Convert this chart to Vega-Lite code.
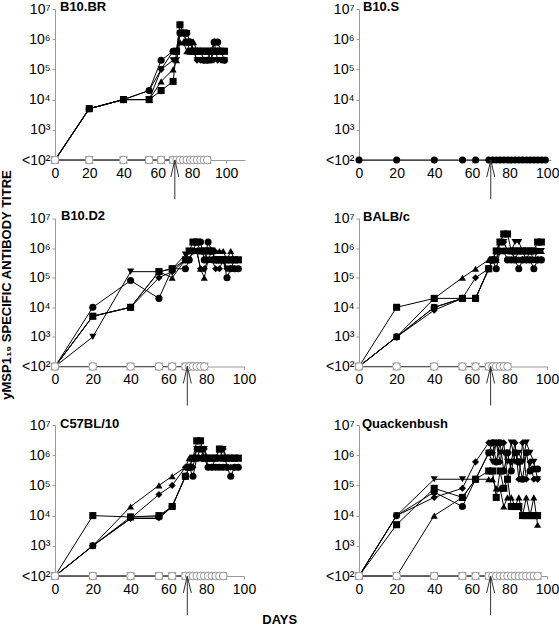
{
"$schema":"https://vega.github.io/schema/vega-lite/v6.json",
"padding":{"left":0,"top":1,"right":0,"bottom":0},
"title":{"text":"DAYS","orient":"bottom","anchor":"middle","frame":"bounds","fontSize":13,"fontWeight":"bold","font":"Liberation Sans","color":"black","offset":-3,"dx":0},
"config":{"view":{"stroke":null},
"title":{"anchor":"start","frame":"group","orient":"top","offset":-12,"fontSize":13,"fontWeight":"bold","font":"Liberation Sans","color":"black"},
"axis":{"grid":false,"labelFont":"Liberation Sans","labelFontSize":14,"labelColor":"black","domainColor":"#999","tickColor":"#999","tickSize":3,"labelPadding":2,"labelFlush":false,"labelOverlap":false,"titleFont":"Liberation Sans","titleColor":"black"},
"axisX":{"labelPadding":3}},
"datasets":{
"panels":[{"strain":"B10.BR","day":70,"titre":100},{"strain":"B10.S","day":70,"titre":100},{"strain":"B10.D2","day":70,"titre":100},{"strain":"BALB/c","day":70,"titre":100},{"strain":"C57BL/10","day":70,"titre":100},{"strain":"Quackenbush","day":70,"titre":100}],
"BR_mice":[
{"mouse":"M1","day":0,"titre":100},{"mouse":"M1","day":20,"titre":5000},{"mouse":"M1","day":40,"titre":1e4},{"mouse":"M1","day":55,"titre":2e4},{"mouse":"M1","day":62,"titre":2e5},{"mouse":"M1","day":69,"titre":4e5},{"mouse":"M1","day":71,"titre":4e5},{"mouse":"M1","day":73,"titre":1.6e6},{"mouse":"M1","day":75,"titre":1.6e6},{"mouse":"M1","day":77,"titre":1.6e6},{"mouse":"M1","day":79,"titre":8e5},{"mouse":"M1","day":81,"titre":4e5},{"mouse":"M1","day":83,"titre":4e5},{"mouse":"M1","day":85,"titre":4e5},{"mouse":"M1","day":87,"titre":2e5},{"mouse":"M1","day":89,"titre":2e5},{"mouse":"M1","day":91,"titre":4e5},{"mouse":"M1","day":93,"titre":8e5},{"mouse":"M1","day":95,"titre":8e5},{"mouse":"M1","day":97,"titre":4e5},{"mouse":"M1","day":99,"titre":2e5},
{"mouse":"M2","day":0,"titre":100},{"mouse":"M2","day":20,"titre":5000},{"mouse":"M2","day":40,"titre":1e4},{"mouse":"M2","day":55,"titre":1e4},{"mouse":"M2","day":62,"titre":2e4},{"mouse":"M2","day":69,"titre":4e4},{"mouse":"M2","day":71,"titre":4e5},{"mouse":"M2","day":73,"titre":3e6},{"mouse":"M2","day":75,"titre":1.6e6},{"mouse":"M2","day":77,"titre":8e5},{"mouse":"M2","day":79,"titre":4e5},{"mouse":"M2","day":81,"titre":4e5},{"mouse":"M2","day":83,"titre":4e5},{"mouse":"M2","day":85,"titre":4e5},{"mouse":"M2","day":87,"titre":4e5},{"mouse":"M2","day":89,"titre":4e5},{"mouse":"M2","day":91,"titre":4e5},{"mouse":"M2","day":93,"titre":4e5},{"mouse":"M2","day":95,"titre":4e5},{"mouse":"M2","day":97,"titre":4e5},{"mouse":"M2","day":99,"titre":4e5},
{"mouse":"M3","day":0,"titre":100},{"mouse":"M3","day":20,"titre":5000},{"mouse":"M3","day":40,"titre":1e4},{"mouse":"M3","day":55,"titre":1e4},{"mouse":"M3","day":62,"titre":4e4},{"mouse":"M3","day":69,"titre":1e5},{"mouse":"M3","day":71,"titre":2e5},{"mouse":"M3","day":73,"titre":8e5},{"mouse":"M3","day":75,"titre":8e5},{"mouse":"M3","day":77,"titre":4e5},{"mouse":"M3","day":79,"titre":4e5},{"mouse":"M3","day":81,"titre":8e5},{"mouse":"M3","day":83,"titre":4e5},{"mouse":"M3","day":85,"titre":4e5},{"mouse":"M3","day":87,"titre":4e5},{"mouse":"M3","day":89,"titre":4e5},{"mouse":"M3","day":91,"titre":2e5},{"mouse":"M3","day":93,"titre":4e5},{"mouse":"M3","day":95,"titre":4e5},{"mouse":"M3","day":97,"titre":4e5},{"mouse":"M3","day":99,"titre":4e5},
{"mouse":"M4","day":0,"titre":100},{"mouse":"M4","day":20,"titre":5000},{"mouse":"M4","day":40,"titre":1e4},{"mouse":"M4","day":55,"titre":1e4},{"mouse":"M4","day":62,"titre":1e5},{"mouse":"M4","day":69,"titre":2e5},{"mouse":"M4","day":71,"titre":2e5},{"mouse":"M4","day":73,"titre":1.6e6},{"mouse":"M4","day":75,"titre":1.6e6},{"mouse":"M4","day":77,"titre":1.6e6},{"mouse":"M4","day":79,"titre":8e5},{"mouse":"M4","day":81,"titre":4e5},{"mouse":"M4","day":83,"titre":2e5},{"mouse":"M4","day":85,"titre":2e5},{"mouse":"M4","day":87,"titre":2e5},{"mouse":"M4","day":89,"titre":2e5},{"mouse":"M4","day":91,"titre":2e5},{"mouse":"M4","day":93,"titre":2e5},{"mouse":"M4","day":95,"titre":2e5},{"mouse":"M4","day":97,"titre":2e5},{"mouse":"M4","day":99,"titre":2e5},
{"mouse":"M5","day":0,"titre":100},{"mouse":"M5","day":20,"titre":5000},{"mouse":"M5","day":40,"titre":1e4},{"mouse":"M5","day":55,"titre":2e4},{"mouse":"M5","day":62,"titre":1e5},{"mouse":"M5","day":69,"titre":4e5},{"mouse":"M5","day":71,"titre":4e5},{"mouse":"M5","day":73,"titre":3e6},{"mouse":"M5","day":75,"titre":1.6e6},{"mouse":"M5","day":77,"titre":8e5},{"mouse":"M5","day":79,"titre":8e5},{"mouse":"M5","day":81,"titre":4e5},{"mouse":"M5","day":83,"titre":2e5},{"mouse":"M5","day":85,"titre":2e5},{"mouse":"M5","day":87,"titre":2e5},{"mouse":"M5","day":89,"titre":2e5},{"mouse":"M5","day":91,"titre":2e5},{"mouse":"M5","day":93,"titre":8e5},{"mouse":"M5","day":95,"titre":2e5},{"mouse":"M5","day":97,"titre":2e5},{"mouse":"M5","day":99,"titre":2e5}
],
"BR_ctrl":[
{"mouse":"C1","day":0,"titre":100},{"mouse":"C1","day":20,"titre":100},{"mouse":"C1","day":40,"titre":100},{"mouse":"C1","day":55,"titre":100},{"mouse":"C1","day":62,"titre":100},{"mouse":"C1","day":69,"titre":100},{"mouse":"C1","day":71,"titre":100},{"mouse":"C1","day":73,"titre":100},{"mouse":"C1","day":75,"titre":100},{"mouse":"C1","day":77,"titre":100},{"mouse":"C1","day":79,"titre":100},{"mouse":"C1","day":81,"titre":100},{"mouse":"C1","day":83,"titre":100},{"mouse":"C1","day":85,"titre":100},{"mouse":"C1","day":87,"titre":100},{"mouse":"C1","day":89,"titre":100},
{"mouse":"C2","day":0,"titre":100},{"mouse":"C2","day":20,"titre":100},{"mouse":"C2","day":40,"titre":100},{"mouse":"C2","day":55,"titre":100},{"mouse":"C2","day":62,"titre":100},{"mouse":"C2","day":69,"titre":100},{"mouse":"C2","day":71,"titre":100},{"mouse":"C2","day":73,"titre":100},{"mouse":"C2","day":75,"titre":100},{"mouse":"C2","day":77,"titre":100},{"mouse":"C2","day":79,"titre":100},{"mouse":"C2","day":81,"titre":100},{"mouse":"C2","day":83,"titre":100},{"mouse":"C2","day":85,"titre":100},{"mouse":"C2","day":87,"titre":100},{"mouse":"C2","day":89,"titre":100},
{"mouse":"C3","day":0,"titre":100},{"mouse":"C3","day":20,"titre":100},{"mouse":"C3","day":40,"titre":100},{"mouse":"C3","day":55,"titre":100},{"mouse":"C3","day":62,"titre":100},{"mouse":"C3","day":69,"titre":100},{"mouse":"C3","day":71,"titre":100},{"mouse":"C3","day":73,"titre":100},{"mouse":"C3","day":75,"titre":100},{"mouse":"C3","day":77,"titre":100},{"mouse":"C3","day":79,"titre":100},{"mouse":"C3","day":81,"titre":100},{"mouse":"C3","day":83,"titre":100},{"mouse":"C3","day":85,"titre":100},{"mouse":"C3","day":87,"titre":100},{"mouse":"C3","day":89,"titre":100}
],
"S_mice":[
{"mouse":"M1","day":0,"titre":100},{"mouse":"M1","day":20,"titre":100},{"mouse":"M1","day":40,"titre":100},{"mouse":"M1","day":55,"titre":100},{"mouse":"M1","day":62,"titre":100},{"mouse":"M1","day":69,"titre":100},{"mouse":"M1","day":71,"titre":100},{"mouse":"M1","day":73,"titre":100},{"mouse":"M1","day":75,"titre":100},{"mouse":"M1","day":77,"titre":100},{"mouse":"M1","day":79,"titre":100},{"mouse":"M1","day":81,"titre":100},{"mouse":"M1","day":83,"titre":100},{"mouse":"M1","day":85,"titre":100},{"mouse":"M1","day":87,"titre":100},{"mouse":"M1","day":89,"titre":100},{"mouse":"M1","day":91,"titre":100},{"mouse":"M1","day":93,"titre":100},{"mouse":"M1","day":95,"titre":100},{"mouse":"M1","day":97,"titre":100},{"mouse":"M1","day":99,"titre":100}
],
"D2_mice":[
{"mouse":"M1","day":0,"titre":100},{"mouse":"M1","day":20,"titre":1e4},{"mouse":"M1","day":40,"titre":8e4},{"mouse":"M1","day":55,"titre":2e4},{"mouse":"M1","day":62,"titre":2e5},{"mouse":"M1","day":69,"titre":2e5},{"mouse":"M1","day":71,"titre":4e5},{"mouse":"M1","day":73,"titre":8e5},{"mouse":"M1","day":75,"titre":1.6e6},{"mouse":"M1","day":77,"titre":1.6e6},{"mouse":"M1","day":79,"titre":4e5},{"mouse":"M1","day":81,"titre":1.6e6},{"mouse":"M1","day":83,"titre":8e5},{"mouse":"M1","day":85,"titre":4e5},{"mouse":"M1","day":87,"titre":4e5},{"mouse":"M1","day":89,"titre":4e5},{"mouse":"M1","day":91,"titre":1e5},{"mouse":"M1","day":93,"titre":2e5},{"mouse":"M1","day":95,"titre":2e5},{"mouse":"M1","day":97,"titre":2e5},
{"mouse":"M2","day":0,"titre":100},{"mouse":"M2","day":20,"titre":5000},{"mouse":"M2","day":40,"titre":1e4},{"mouse":"M2","day":55,"titre":1.6e5},{"mouse":"M2","day":62,"titre":2e5},{"mouse":"M2","day":69,"titre":4e5},{"mouse":"M2","day":71,"titre":8e5},{"mouse":"M2","day":73,"titre":1.6e6},{"mouse":"M2","day":75,"titre":1.6e6},{"mouse":"M2","day":77,"titre":8e5},{"mouse":"M2","day":79,"titre":8e5},{"mouse":"M2","day":81,"titre":8e5},{"mouse":"M2","day":83,"titre":8e5},{"mouse":"M2","day":85,"titre":4e5},{"mouse":"M2","day":87,"titre":4e5},{"mouse":"M2","day":89,"titre":4e5},{"mouse":"M2","day":91,"titre":4e5},{"mouse":"M2","day":93,"titre":4e5},{"mouse":"M2","day":95,"titre":4e5},{"mouse":"M2","day":97,"titre":4e5},
{"mouse":"M3","day":0,"titre":100},{"mouse":"M3","day":20,"titre":5000},{"mouse":"M3","day":40,"titre":1e4},{"mouse":"M3","day":55,"titre":1.6e5},{"mouse":"M3","day":62,"titre":1e5},{"mouse":"M3","day":69,"titre":4e5},{"mouse":"M3","day":71,"titre":8e5},{"mouse":"M3","day":73,"titre":8e5},{"mouse":"M3","day":75,"titre":8e5},{"mouse":"M3","day":77,"titre":2e5},{"mouse":"M3","day":79,"titre":1e5},{"mouse":"M3","day":81,"titre":4e5},{"mouse":"M3","day":83,"titre":8e5},{"mouse":"M3","day":85,"titre":8e5},{"mouse":"M3","day":87,"titre":8e5},{"mouse":"M3","day":89,"titre":8e5},{"mouse":"M3","day":91,"titre":4e5},{"mouse":"M3","day":93,"titre":8e5},{"mouse":"M3","day":95,"titre":4e5},{"mouse":"M3","day":97,"titre":4e5},
{"mouse":"M4","day":0,"titre":100},{"mouse":"M4","day":20,"titre":1000},{"mouse":"M4","day":40,"titre":1.6e5},{"mouse":"M4","day":55,"titre":1.6e5},{"mouse":"M4","day":62,"titre":2e5},{"mouse":"M4","day":69,"titre":6e5},{"mouse":"M4","day":71,"titre":8e5},{"mouse":"M4","day":73,"titre":8e5},{"mouse":"M4","day":75,"titre":8e5},{"mouse":"M4","day":77,"titre":8e5},{"mouse":"M4","day":79,"titre":8e5},{"mouse":"M4","day":81,"titre":4e5},{"mouse":"M4","day":83,"titre":4e5},{"mouse":"M4","day":85,"titre":4e5},{"mouse":"M4","day":87,"titre":4e5},{"mouse":"M4","day":89,"titre":4e5},{"mouse":"M4","day":91,"titre":2e5},{"mouse":"M4","day":93,"titre":2e5},{"mouse":"M4","day":95,"titre":4e5},{"mouse":"M4","day":97,"titre":4e5},
{"mouse":"M5","day":0,"titre":100},{"mouse":"M5","day":20,"titre":5000},{"mouse":"M5","day":40,"titre":1e4},{"mouse":"M5","day":55,"titre":1e5},{"mouse":"M5","day":62,"titre":1.6e5},{"mouse":"M5","day":69,"titre":4e5},{"mouse":"M5","day":71,"titre":4e5},{"mouse":"M5","day":73,"titre":8e5},{"mouse":"M5","day":75,"titre":8e5},{"mouse":"M5","day":77,"titre":2e5},{"mouse":"M5","day":79,"titre":2e5},{"mouse":"M5","day":81,"titre":4e5},{"mouse":"M5","day":83,"titre":4e5},{"mouse":"M5","day":85,"titre":2e5},{"mouse":"M5","day":87,"titre":2e5},{"mouse":"M5","day":89,"titre":4e5},{"mouse":"M5","day":91,"titre":2e5},{"mouse":"M5","day":93,"titre":2e5},{"mouse":"M5","day":95,"titre":2e5},{"mouse":"M5","day":97,"titre":2e5}
],
"D2_ctrl":[
{"mouse":"C1","day":0,"titre":100},{"mouse":"C1","day":20,"titre":100},{"mouse":"C1","day":40,"titre":100},{"mouse":"C1","day":55,"titre":100},{"mouse":"C1","day":62,"titre":100},{"mouse":"C1","day":69,"titre":100},{"mouse":"C1","day":71,"titre":100},{"mouse":"C1","day":73,"titre":100},{"mouse":"C1","day":75,"titre":100},{"mouse":"C1","day":77,"titre":100},{"mouse":"C1","day":79,"titre":100},
{"mouse":"C2","day":0,"titre":100},{"mouse":"C2","day":20,"titre":100},{"mouse":"C2","day":40,"titre":100},{"mouse":"C2","day":55,"titre":100},{"mouse":"C2","day":62,"titre":100},{"mouse":"C2","day":69,"titre":100},{"mouse":"C2","day":71,"titre":100},{"mouse":"C2","day":73,"titre":100},{"mouse":"C2","day":75,"titre":100},{"mouse":"C2","day":77,"titre":100},{"mouse":"C2","day":79,"titre":100},
{"mouse":"C3","day":0,"titre":100},{"mouse":"C3","day":20,"titre":100},{"mouse":"C3","day":40,"titre":100},{"mouse":"C3","day":55,"titre":100},{"mouse":"C3","day":62,"titre":100},{"mouse":"C3","day":69,"titre":100},{"mouse":"C3","day":71,"titre":100},{"mouse":"C3","day":73,"titre":100},{"mouse":"C3","day":75,"titre":100},{"mouse":"C3","day":77,"titre":100},{"mouse":"C3","day":79,"titre":100}
],
"BALB_mice":[
{"mouse":"M1","day":0,"titre":100},{"mouse":"M1","day":20,"titre":1000},{"mouse":"M1","day":40,"titre":1e4},{"mouse":"M1","day":55,"titre":2e4},{"mouse":"M1","day":62,"titre":2e4},{"mouse":"M1","day":69,"titre":2e5},{"mouse":"M1","day":71,"titre":4e5},{"mouse":"M1","day":73,"titre":2e5},{"mouse":"M1","day":75,"titre":8e5},{"mouse":"M1","day":77,"titre":8e5},{"mouse":"M1","day":79,"titre":4e5},{"mouse":"M1","day":81,"titre":4e5},{"mouse":"M1","day":83,"titre":4e5},{"mouse":"M1","day":85,"titre":2e5},{"mouse":"M1","day":87,"titre":4e5},{"mouse":"M1","day":89,"titre":4e5},{"mouse":"M1","day":91,"titre":4e5},{"mouse":"M1","day":93,"titre":2e5},{"mouse":"M1","day":95,"titre":4e5},{"mouse":"M1","day":97,"titre":4e5},
{"mouse":"M2","day":0,"titre":100},{"mouse":"M2","day":20,"titre":1e4},{"mouse":"M2","day":40,"titre":2e4},{"mouse":"M2","day":55,"titre":2e4},{"mouse":"M2","day":62,"titre":2e4},{"mouse":"M2","day":69,"titre":2e5},{"mouse":"M2","day":71,"titre":4e5},{"mouse":"M2","day":73,"titre":8e5},{"mouse":"M2","day":75,"titre":1.6e6},{"mouse":"M2","day":77,"titre":3e6},{"mouse":"M2","day":79,"titre":3e6},{"mouse":"M2","day":81,"titre":8e5},{"mouse":"M2","day":83,"titre":8e5},{"mouse":"M2","day":85,"titre":8e5},{"mouse":"M2","day":87,"titre":8e5},{"mouse":"M2","day":89,"titre":8e5},{"mouse":"M2","day":91,"titre":8e5},{"mouse":"M2","day":93,"titre":8e5},{"mouse":"M2","day":95,"titre":1.6e6},{"mouse":"M2","day":97,"titre":1.6e6},
{"mouse":"M3","day":0,"titre":100},{"mouse":"M3","day":20,"titre":1000},{"mouse":"M3","day":40,"titre":2e4},{"mouse":"M3","day":55,"titre":1e5},{"mouse":"M3","day":62,"titre":2e5},{"mouse":"M3","day":69,"titre":4e5},{"mouse":"M3","day":71,"titre":4e5},{"mouse":"M3","day":73,"titre":4e5},{"mouse":"M3","day":75,"titre":8e5},{"mouse":"M3","day":77,"titre":8e5},{"mouse":"M3","day":79,"titre":8e5},{"mouse":"M3","day":81,"titre":8e5},{"mouse":"M3","day":83,"titre":4e5},{"mouse":"M3","day":85,"titre":8e5},{"mouse":"M3","day":87,"titre":8e5},{"mouse":"M3","day":89,"titre":4e5},{"mouse":"M3","day":91,"titre":8e5},{"mouse":"M3","day":93,"titre":4e5},{"mouse":"M3","day":95,"titre":8e5},{"mouse":"M3","day":97,"titre":8e5},
{"mouse":"M4","day":0,"titre":100},{"mouse":"M4","day":20,"titre":1000},{"mouse":"M4","day":40,"titre":1e4},{"mouse":"M4","day":55,"titre":2e4},{"mouse":"M4","day":62,"titre":2e4},{"mouse":"M4","day":69,"titre":2e5},{"mouse":"M4","day":71,"titre":4e5},{"mouse":"M4","day":73,"titre":8e5},{"mouse":"M4","day":75,"titre":1.6e6},{"mouse":"M4","day":77,"titre":1.6e6},{"mouse":"M4","day":79,"titre":8e5},{"mouse":"M4","day":81,"titre":8e5},{"mouse":"M4","day":83,"titre":1.6e6},{"mouse":"M4","day":85,"titre":1.6e6},{"mouse":"M4","day":87,"titre":8e5},{"mouse":"M4","day":89,"titre":8e5},{"mouse":"M4","day":91,"titre":8e5},{"mouse":"M4","day":93,"titre":8e5},{"mouse":"M4","day":95,"titre":8e5},{"mouse":"M4","day":97,"titre":8e5},
{"mouse":"M5","day":0,"titre":100},{"mouse":"M5","day":20,"titre":1000},{"mouse":"M5","day":40,"titre":8000},{"mouse":"M5","day":55,"titre":2e4},{"mouse":"M5","day":62,"titre":1e5},{"mouse":"M5","day":69,"titre":2e5},{"mouse":"M5","day":71,"titre":4e5},{"mouse":"M5","day":73,"titre":4e5},{"mouse":"M5","day":75,"titre":1.6e6},{"mouse":"M5","day":77,"titre":1.6e6},{"mouse":"M5","day":79,"titre":8e5},{"mouse":"M5","day":81,"titre":8e5},{"mouse":"M5","day":83,"titre":4e5},{"mouse":"M5","day":85,"titre":4e5},{"mouse":"M5","day":87,"titre":4e5},{"mouse":"M5","day":89,"titre":4e5},{"mouse":"M5","day":91,"titre":4e5},{"mouse":"M5","day":93,"titre":4e5},{"mouse":"M5","day":95,"titre":4e5},{"mouse":"M5","day":97,"titre":4e5}
],
"BALB_ctrl":[
{"mouse":"C1","day":0,"titre":100},{"mouse":"C1","day":20,"titre":100},{"mouse":"C1","day":40,"titre":100},{"mouse":"C1","day":55,"titre":100},{"mouse":"C1","day":62,"titre":100},{"mouse":"C1","day":69,"titre":100},{"mouse":"C1","day":71,"titre":100},{"mouse":"C1","day":73,"titre":100},{"mouse":"C1","day":75,"titre":100},{"mouse":"C1","day":77,"titre":100},{"mouse":"C1","day":79,"titre":100},
{"mouse":"C2","day":0,"titre":100},{"mouse":"C2","day":20,"titre":100},{"mouse":"C2","day":40,"titre":100},{"mouse":"C2","day":55,"titre":100},{"mouse":"C2","day":62,"titre":100},{"mouse":"C2","day":69,"titre":100},{"mouse":"C2","day":71,"titre":100},{"mouse":"C2","day":73,"titre":100},{"mouse":"C2","day":75,"titre":100},{"mouse":"C2","day":77,"titre":100},{"mouse":"C2","day":79,"titre":100},
{"mouse":"C3","day":0,"titre":100},{"mouse":"C3","day":20,"titre":100},{"mouse":"C3","day":40,"titre":100},{"mouse":"C3","day":55,"titre":100},{"mouse":"C3","day":62,"titre":100},{"mouse":"C3","day":69,"titre":100},{"mouse":"C3","day":71,"titre":100},{"mouse":"C3","day":73,"titre":100},{"mouse":"C3","day":75,"titre":100},{"mouse":"C3","day":77,"titre":100},{"mouse":"C3","day":79,"titre":100}
],
"C57_mice":[
{"mouse":"M1","day":0,"titre":100},{"mouse":"M1","day":20,"titre":1000},{"mouse":"M1","day":40,"titre":9000},{"mouse":"M1","day":55,"titre":9000},{"mouse":"M1","day":62,"titre":2e4},{"mouse":"M1","day":69,"titre":2e5},{"mouse":"M1","day":71,"titre":4e5},{"mouse":"M1","day":73,"titre":2e5},{"mouse":"M1","day":75,"titre":8e5},{"mouse":"M1","day":77,"titre":1.6e6},{"mouse":"M1","day":79,"titre":8e5},{"mouse":"M1","day":81,"titre":4e5},{"mouse":"M1","day":83,"titre":4e5},{"mouse":"M1","day":85,"titre":4e5},{"mouse":"M1","day":87,"titre":4e5},{"mouse":"M1","day":89,"titre":4e5},{"mouse":"M1","day":91,"titre":4e5},{"mouse":"M1","day":93,"titre":2e5},{"mouse":"M1","day":95,"titre":4e5},{"mouse":"M1","day":97,"titre":4e5},
{"mouse":"M2","day":0,"titre":100},{"mouse":"M2","day":20,"titre":1e4},{"mouse":"M2","day":40,"titre":9000},{"mouse":"M2","day":55,"titre":1e4},{"mouse":"M2","day":62,"titre":2e4},{"mouse":"M2","day":69,"titre":2e5},{"mouse":"M2","day":71,"titre":4e5},{"mouse":"M2","day":73,"titre":8e5},{"mouse":"M2","day":75,"titre":3e6},{"mouse":"M2","day":77,"titre":3e6},{"mouse":"M2","day":79,"titre":8e5},{"mouse":"M2","day":81,"titre":8e5},{"mouse":"M2","day":83,"titre":8e5},{"mouse":"M2","day":85,"titre":8e5},{"mouse":"M2","day":87,"titre":1.6e6},{"mouse":"M2","day":89,"titre":8e5},{"mouse":"M2","day":91,"titre":8e5},{"mouse":"M2","day":93,"titre":8e5},{"mouse":"M2","day":95,"titre":8e5},{"mouse":"M2","day":97,"titre":8e5},
{"mouse":"M3","day":0,"titre":100},{"mouse":"M3","day":20,"titre":1000},{"mouse":"M3","day":40,"titre":2e4},{"mouse":"M3","day":55,"titre":1e5},{"mouse":"M3","day":62,"titre":2e5},{"mouse":"M3","day":69,"titre":4e5},{"mouse":"M3","day":71,"titre":8e5},{"mouse":"M3","day":73,"titre":8e5},{"mouse":"M3","day":75,"titre":8e5},{"mouse":"M3","day":77,"titre":8e5},{"mouse":"M3","day":79,"titre":8e5},{"mouse":"M3","day":81,"titre":8e5},{"mouse":"M3","day":83,"titre":8e5},{"mouse":"M3","day":85,"titre":8e5},{"mouse":"M3","day":87,"titre":8e5},{"mouse":"M3","day":89,"titre":8e5},{"mouse":"M3","day":91,"titre":8e5},{"mouse":"M3","day":93,"titre":8e5},{"mouse":"M3","day":95,"titre":8e5},{"mouse":"M3","day":97,"titre":8e5},
{"mouse":"M4","day":0,"titre":100},{"mouse":"M4","day":20,"titre":1000},{"mouse":"M4","day":40,"titre":8000},{"mouse":"M4","day":55,"titre":8000},{"mouse":"M4","day":62,"titre":2e4},{"mouse":"M4","day":69,"titre":2e5},{"mouse":"M4","day":71,"titre":4e5},{"mouse":"M4","day":73,"titre":8e5},{"mouse":"M4","day":75,"titre":1.6e6},{"mouse":"M4","day":77,"titre":8e5},{"mouse":"M4","day":79,"titre":1.6e6},{"mouse":"M4","day":81,"titre":8e5},{"mouse":"M4","day":83,"titre":8e5},{"mouse":"M4","day":85,"titre":8e5},{"mouse":"M4","day":87,"titre":8e5},{"mouse":"M4","day":89,"titre":1.6e6},{"mouse":"M4","day":91,"titre":8e5},{"mouse":"M4","day":93,"titre":8e5},{"mouse":"M4","day":95,"titre":8e5},{"mouse":"M4","day":97,"titre":8e5},
{"mouse":"M5","day":0,"titre":100},{"mouse":"M5","day":20,"titre":1000},{"mouse":"M5","day":40,"titre":8000},{"mouse":"M5","day":55,"titre":5e4},{"mouse":"M5","day":62,"titre":1e5},{"mouse":"M5","day":69,"titre":4e5},{"mouse":"M5","day":71,"titre":4e5},{"mouse":"M5","day":73,"titre":4e5},{"mouse":"M5","day":75,"titre":1.6e6},{"mouse":"M5","day":77,"titre":1.6e6},{"mouse":"M5","day":79,"titre":1.6e6},{"mouse":"M5","day":81,"titre":4e5},{"mouse":"M5","day":83,"titre":4e5},{"mouse":"M5","day":85,"titre":8e5},{"mouse":"M5","day":87,"titre":1.6e6},{"mouse":"M5","day":89,"titre":1.6e6},{"mouse":"M5","day":91,"titre":4e5},{"mouse":"M5","day":93,"titre":4e5},{"mouse":"M5","day":95,"titre":4e5},{"mouse":"M5","day":97,"titre":4e5}
],
"C57_ctrl":[
{"mouse":"C1","day":0,"titre":100},{"mouse":"C1","day":20,"titre":100},{"mouse":"C1","day":40,"titre":100},{"mouse":"C1","day":55,"titre":100},{"mouse":"C1","day":62,"titre":100},{"mouse":"C1","day":69,"titre":100},{"mouse":"C1","day":71,"titre":100},{"mouse":"C1","day":73,"titre":100},{"mouse":"C1","day":75,"titre":100},{"mouse":"C1","day":77,"titre":100},{"mouse":"C1","day":79,"titre":100},{"mouse":"C1","day":81,"titre":100},{"mouse":"C1","day":83,"titre":100},{"mouse":"C1","day":85,"titre":100},{"mouse":"C1","day":87,"titre":100},{"mouse":"C1","day":89,"titre":100},
{"mouse":"C2","day":0,"titre":100},{"mouse":"C2","day":20,"titre":100},{"mouse":"C2","day":40,"titre":100},{"mouse":"C2","day":55,"titre":100},{"mouse":"C2","day":62,"titre":100},{"mouse":"C2","day":69,"titre":100},{"mouse":"C2","day":71,"titre":100},{"mouse":"C2","day":73,"titre":100},{"mouse":"C2","day":75,"titre":100},{"mouse":"C2","day":77,"titre":100},{"mouse":"C2","day":79,"titre":100},{"mouse":"C2","day":81,"titre":100},{"mouse":"C2","day":83,"titre":100},{"mouse":"C2","day":85,"titre":100},{"mouse":"C2","day":87,"titre":100},{"mouse":"C2","day":89,"titre":100},
{"mouse":"C3","day":0,"titre":100},{"mouse":"C3","day":20,"titre":100},{"mouse":"C3","day":40,"titre":100},{"mouse":"C3","day":55,"titre":100},{"mouse":"C3","day":62,"titre":100},{"mouse":"C3","day":69,"titre":100},{"mouse":"C3","day":71,"titre":100},{"mouse":"C3","day":73,"titre":100},{"mouse":"C3","day":75,"titre":100},{"mouse":"C3","day":77,"titre":100},{"mouse":"C3","day":79,"titre":100},{"mouse":"C3","day":81,"titre":100},{"mouse":"C3","day":83,"titre":100},{"mouse":"C3","day":85,"titre":100},{"mouse":"C3","day":87,"titre":100},{"mouse":"C3","day":89,"titre":100}
],
"QB_mice":[
{"mouse":"M1","day":0,"titre":100},{"mouse":"M1","day":20,"titre":1e4},{"mouse":"M1","day":40,"titre":6e4},{"mouse":"M1","day":55,"titre":2e4},{"mouse":"M1","day":62,"titre":1.6e5},{"mouse":"M1","day":69,"titre":1.2e6},{"mouse":"M1","day":71,"titre":2.6e6},{"mouse":"M1","day":73,"titre":6e5},{"mouse":"M1","day":75,"titre":2.6e6},{"mouse":"M1","day":77,"titre":3e5},{"mouse":"M1","day":79,"titre":1.2e6},{"mouse":"M1","day":81,"titre":3e5},{"mouse":"M1","day":83,"titre":1.2e6},{"mouse":"M1","day":85,"titre":6e5},{"mouse":"M1","day":87,"titre":1.6e5},{"mouse":"M1","day":89,"titre":1.2e6},{"mouse":"M1","day":91,"titre":3e5},{"mouse":"M1","day":93,"titre":3.5e5},{"mouse":"M1","day":95,"titre":3.5e5},
{"mouse":"M2","day":0,"titre":100},{"mouse":"M2","day":20,"titre":5000},{"mouse":"M2","day":40,"titre":8e4},{"mouse":"M2","day":55,"titre":4e4},{"mouse":"M2","day":62,"titre":1.6e5},{"mouse":"M2","day":69,"titre":3e5},{"mouse":"M2","day":71,"titre":3e5},{"mouse":"M2","day":73,"titre":4e4},{"mouse":"M2","day":75,"titre":3e5},{"mouse":"M2","day":77,"titre":8e4},{"mouse":"M2","day":79,"titre":1.6e5},{"mouse":"M2","day":81,"titre":2e4},{"mouse":"M2","day":83,"titre":2e4},{"mouse":"M2","day":85,"titre":2e4},{"mouse":"M2","day":87,"titre":1e4},{"mouse":"M2","day":89,"titre":1e4},{"mouse":"M2","day":91,"titre":1e4},{"mouse":"M2","day":93,"titre":1e4},{"mouse":"M2","day":95,"titre":1e4},
{"mouse":"M3","day":0,"titre":100},{"mouse":"M3","day":20,"titre":100},{"mouse":"M3","day":40,"titre":1e4},{"mouse":"M3","day":55,"titre":4e4},{"mouse":"M3","day":62,"titre":1.6e5},{"mouse":"M3","day":69,"titre":1.6e5},{"mouse":"M3","day":71,"titre":1.6e5},{"mouse":"M3","day":73,"titre":8e4},{"mouse":"M3","day":75,"titre":8e4},{"mouse":"M3","day":77,"titre":2e4},{"mouse":"M3","day":79,"titre":4e4},{"mouse":"M3","day":81,"titre":4e4},{"mouse":"M3","day":83,"titre":2e4},{"mouse":"M3","day":85,"titre":4e4},{"mouse":"M3","day":87,"titre":1e4},{"mouse":"M3","day":89,"titre":4e4},{"mouse":"M3","day":91,"titre":1e4},{"mouse":"M3","day":93,"titre":4e4},{"mouse":"M3","day":95,"titre":5000},
{"mouse":"M4","day":0,"titre":100},{"mouse":"M4","day":20,"titre":1e4},{"mouse":"M4","day":40,"titre":1.6e5},{"mouse":"M4","day":55,"titre":1.6e5},{"mouse":"M4","day":62,"titre":1.6e5},{"mouse":"M4","day":69,"titre":1.2e6},{"mouse":"M4","day":71,"titre":6e5},{"mouse":"M4","day":73,"titre":2.6e6},{"mouse":"M4","day":75,"titre":1.2e6},{"mouse":"M4","day":77,"titre":1.2e6},{"mouse":"M4","day":79,"titre":6e5},{"mouse":"M4","day":81,"titre":2.6e6},{"mouse":"M4","day":83,"titre":6e5},{"mouse":"M4","day":85,"titre":1.2e6},{"mouse":"M4","day":87,"titre":6e5},{"mouse":"M4","day":89,"titre":2.6e6},{"mouse":"M4","day":91,"titre":1.2e6},{"mouse":"M4","day":93,"titre":6e5},{"mouse":"M4","day":95,"titre":1.6e5},
{"mouse":"M5","day":0,"titre":100},{"mouse":"M5","day":20,"titre":1e4},{"mouse":"M5","day":40,"titre":4e4},{"mouse":"M5","day":55,"titre":8e4},{"mouse":"M5","day":62,"titre":6e5},{"mouse":"M5","day":69,"titre":2.6e6},{"mouse":"M5","day":71,"titre":1.2e6},{"mouse":"M5","day":73,"titre":2.6e6},{"mouse":"M5","day":75,"titre":6e5},{"mouse":"M5","day":77,"titre":2.6e6},{"mouse":"M5","day":79,"titre":1.6e5},{"mouse":"M5","day":81,"titre":6e5},{"mouse":"M5","day":83,"titre":2.6e6},{"mouse":"M5","day":85,"titre":1.6e5},{"mouse":"M5","day":87,"titre":2.6e6},{"mouse":"M5","day":89,"titre":1.6e5},{"mouse":"M5","day":91,"titre":6e5},{"mouse":"M5","day":93,"titre":1.6e5},{"mouse":"M5","day":95,"titre":1.6e5}
],
"QB_ctrl":[
{"mouse":"C1","day":0,"titre":100},{"mouse":"C1","day":20,"titre":100},{"mouse":"C1","day":40,"titre":100},{"mouse":"C1","day":55,"titre":100},{"mouse":"C1","day":62,"titre":100},{"mouse":"C1","day":69,"titre":100},{"mouse":"C1","day":71,"titre":100},{"mouse":"C1","day":73,"titre":100},{"mouse":"C1","day":75,"titre":100},{"mouse":"C1","day":77,"titre":100},{"mouse":"C1","day":79,"titre":100},{"mouse":"C1","day":81,"titre":100},{"mouse":"C1","day":83,"titre":100},{"mouse":"C1","day":85,"titre":100},{"mouse":"C1","day":87,"titre":100},{"mouse":"C1","day":89,"titre":100},{"mouse":"C1","day":91,"titre":100},{"mouse":"C1","day":93,"titre":100},{"mouse":"C1","day":95,"titre":100},
{"mouse":"C2","day":0,"titre":100},{"mouse":"C2","day":20,"titre":100},{"mouse":"C2","day":40,"titre":100},{"mouse":"C2","day":55,"titre":100},{"mouse":"C2","day":62,"titre":100},{"mouse":"C2","day":69,"titre":100},{"mouse":"C2","day":71,"titre":100},{"mouse":"C2","day":73,"titre":100},{"mouse":"C2","day":75,"titre":100},{"mouse":"C2","day":77,"titre":100},{"mouse":"C2","day":79,"titre":100},{"mouse":"C2","day":81,"titre":100},{"mouse":"C2","day":83,"titre":100},{"mouse":"C2","day":85,"titre":100},{"mouse":"C2","day":87,"titre":100},{"mouse":"C2","day":89,"titre":100},{"mouse":"C2","day":91,"titre":100},{"mouse":"C2","day":93,"titre":100},{"mouse":"C2","day":95,"titre":100},
{"mouse":"C3","day":0,"titre":100},{"mouse":"C3","day":20,"titre":100},{"mouse":"C3","day":40,"titre":100},{"mouse":"C3","day":55,"titre":100},{"mouse":"C3","day":62,"titre":100},{"mouse":"C3","day":69,"titre":100},{"mouse":"C3","day":71,"titre":100},{"mouse":"C3","day":73,"titre":100},{"mouse":"C3","day":75,"titre":100},{"mouse":"C3","day":77,"titre":100},{"mouse":"C3","day":79,"titre":100},{"mouse":"C3","day":81,"titre":100},{"mouse":"C3","day":83,"titre":100},{"mouse":"C3","day":85,"titre":100},{"mouse":"C3","day":87,"titre":100},{"mouse":"C3","day":89,"titre":100},{"mouse":"C3","day":91,"titre":100},{"mouse":"C3","day":93,"titre":100},{"mouse":"C3","day":95,"titre":100}
]
},
"columns":2,
"bounds":"flush",
"spacing":{"row":58.5,"column":114},
"concat":[
{"width":190,"height":151,"title":{"text":"B10.BR","dx":5},
"layer":[
{"encoding":{"x":{"field":"day","type":"quantitative","scale":{"domain":[0,111],"nice":false,"zero":false},"axis":{"values":[0,20,40,60,80,100],"title":null,"labelOverlap":false}},
"y":{"field":"titre","type":"quantitative","scale":{"type":"log","domain":[100,10000000],"nice":false},"axis":{"values":[100,1000,10000,100000,1000000,10000000],"labelExpr":"datum.value < 150 ? '<10²' : datum.value < 1500 ? '10³' : datum.value < 15000 ? '10⁴' : datum.value < 150000 ? '10⁵' : datum.value < 1500000 ? '10⁶' : '10⁷'","title":null,"labelOverlap":false}}},
"layer":[
{"data":{"name":"BR_mice"},"mark":{"type":"line","color":"black","strokeWidth":1},"encoding":{"detail":{"field":"mouse"},"order":{"field":"day","type":"quantitative"}}},
{"data":{"name":"BR_ctrl"},"mark":{"type":"line","color":"#555","strokeWidth":1},"encoding":{"detail":{"field":"mouse"},"order":{"field":"day","type":"quantitative"}}},
{"data":{"name":"BR_mice"},"mark":{"type":"point","filled":true,"color":"black","opacity":1,"size":50},"encoding":{"shape":{"field":"mouse","legend":null,"scale":{"domain":["M1","M2","M3","M4","M5","C1","C2","C3"],"range":["circle","square","triangle-up","triangle-down","diamond","triangle-up","triangle-down","circle"]}}}},
{"data":{"name":"BR_ctrl"},"mark":{"type":"point","filled":true,"fill":"white","stroke":"#999","strokeWidth":1,"opacity":1,"size":60},"encoding":{"shape":{"field":"mouse","legend":null,"scale":{"domain":["M1","M2","M3","M4","M5","C1","C2","C3"],"range":["circle","square","triangle-up","triangle-down","diamond","triangle-up","triangle-down","circle"]}}}},
{"data":{"name":"panels"},"transform":[{"filter":"datum.strain == 'B10.BR'"}],"mark":{"type":"point","shape":"M0,0L0,3.9M-0.4,1.7L0,0L0.4,1.7","size":400,"filled":false,"color":"#333","strokeWidth":1,"opacity":1}}
]}
]},
{"width":192,"height":151,"title":{"text":"B10.S","dx":4},
"layer":[
{"encoding":{"x":{"field":"day","type":"quantitative","scale":{"domain":[0,102],"nice":false,"zero":false},"axis":{"values":[0,20,40,60,80,100],"title":null,"labelOverlap":false}},
"y":{"field":"titre","type":"quantitative","scale":{"type":"log","domain":[100,10000000],"nice":false},"axis":{"values":[100,1000,10000,100000,1000000,10000000],"labelExpr":"datum.value < 150 ? '<10²' : datum.value < 1500 ? '10³' : datum.value < 15000 ? '10⁴' : datum.value < 150000 ? '10⁵' : datum.value < 1500000 ? '10⁶' : '10⁷'","title":null,"labelOverlap":false}}},
"layer":[
{"data":{"name":"S_mice"},"mark":{"type":"line","color":"black","strokeWidth":1},"encoding":{"detail":{"field":"mouse"},"order":{"field":"day","type":"quantitative"}}},
{"data":{"name":"S_mice"},"mark":{"type":"point","filled":true,"color":"black","opacity":1,"size":50},"encoding":{"shape":{"field":"mouse","legend":null,"scale":{"domain":["M1","M2","M3","M4","M5","C1","C2","C3"],"range":["circle","square","triangle-up","triangle-down","diamond","triangle-up","triangle-down","circle"]}}}},
{"data":{"name":"panels"},"transform":[{"filter":"datum.strain == 'B10.S'"}],"mark":{"type":"point","shape":"M0,0L0,3.9M-0.4,1.7L0,0L0.4,1.7","size":400,"filled":false,"color":"#333","strokeWidth":1,"opacity":1}}
]}
]},
{"width":189,"height":148,"title":{"text":"B10.D2","dx":6,"offset":-54},
"layer":[
{"encoding":{"x":{"field":"day","type":"quantitative","scale":{"domain":[0,100],"nice":false,"zero":false},"axis":{"values":[0,20,40,60,80,100],"title":null,"labelOverlap":false}},
"y":{"field":"titre","type":"quantitative","scale":{"type":"log","domain":[100,10000000],"nice":false},"axis":{"values":[100,1000,10000,100000,1000000,10000000],"labelExpr":"datum.value < 150 ? '<10²' : datum.value < 1500 ? '10³' : datum.value < 15000 ? '10⁴' : datum.value < 150000 ? '10⁵' : datum.value < 1500000 ? '10⁶' : '10⁷'","title":"yMSP1₁₉ SPECIFIC ANTIBODY TITRE","titleFontSize":13,"titleFontWeight":"bold","titlePadding":8,"titleY":66,"labelOverlap":false}}},
"layer":[
{"data":{"name":"D2_mice"},"mark":{"type":"line","color":"black","strokeWidth":1},"encoding":{"detail":{"field":"mouse"},"order":{"field":"day","type":"quantitative"}}},
{"data":{"name":"D2_ctrl"},"mark":{"type":"line","color":"#555","strokeWidth":1},"encoding":{"detail":{"field":"mouse"},"order":{"field":"day","type":"quantitative"}}},
{"data":{"name":"D2_mice"},"mark":{"type":"point","filled":true,"color":"black","opacity":1,"size":50},"encoding":{"shape":{"field":"mouse","legend":null,"scale":{"domain":["M1","M2","M3","M4","M5","C1","C2","C3"],"range":["circle","square","triangle-up","triangle-down","diamond","triangle-up","triangle-down","circle"]}}}},
{"data":{"name":"D2_ctrl"},"mark":{"type":"point","filled":true,"fill":"white","stroke":"#999","strokeWidth":1,"opacity":1,"size":60},"encoding":{"shape":{"field":"mouse","legend":null,"scale":{"domain":["M1","M2","M3","M4","M5","C1","C2","C3"],"range":["circle","square","triangle-up","triangle-down","diamond","triangle-up","triangle-down","circle"]}}}},
{"data":{"name":"panels"},"transform":[{"filter":"datum.strain == 'B10.D2'"}],"mark":{"type":"point","shape":"M0,0L0,3.9M-0.4,1.7L0,0L0.4,1.7","size":400,"filled":false,"color":"#333","strokeWidth":1,"opacity":1}}
]}
]},
{"width":188,"height":148,"title":{"text":"BALB/c","dx":4},
"layer":[
{"encoding":{"x":{"field":"day","type":"quantitative","scale":{"domain":[0,100],"nice":false,"zero":false},"axis":{"values":[0,20,40,60,80,100],"title":null,"labelOverlap":false}},
"y":{"field":"titre","type":"quantitative","scale":{"type":"log","domain":[100,10000000],"nice":false},"axis":{"values":[100,1000,10000,100000,1000000,10000000],"labelExpr":"datum.value < 150 ? '<10²' : datum.value < 1500 ? '10³' : datum.value < 15000 ? '10⁴' : datum.value < 150000 ? '10⁵' : datum.value < 1500000 ? '10⁶' : '10⁷'","title":null,"labelOverlap":false}}},
"layer":[
{"data":{"name":"BALB_mice"},"mark":{"type":"line","color":"black","strokeWidth":1},"encoding":{"detail":{"field":"mouse"},"order":{"field":"day","type":"quantitative"}}},
{"data":{"name":"BALB_ctrl"},"mark":{"type":"line","color":"#555","strokeWidth":1},"encoding":{"detail":{"field":"mouse"},"order":{"field":"day","type":"quantitative"}}},
{"data":{"name":"BALB_mice"},"mark":{"type":"point","filled":true,"color":"black","opacity":1,"size":50},"encoding":{"shape":{"field":"mouse","legend":null,"scale":{"domain":["M1","M2","M3","M4","M5","C1","C2","C3"],"range":["circle","square","triangle-up","triangle-down","diamond","triangle-up","triangle-down","circle"]}}}},
{"data":{"name":"BALB_ctrl"},"mark":{"type":"point","filled":true,"fill":"white","stroke":"#999","strokeWidth":1,"opacity":1,"size":60},"encoding":{"shape":{"field":"mouse","legend":null,"scale":{"domain":["M1","M2","M3","M4","M5","C1","C2","C3"],"range":["circle","square","triangle-up","triangle-down","diamond","triangle-up","triangle-down","circle"]}}}},
{"data":{"name":"panels"},"transform":[{"filter":"datum.strain == 'BALB/c'"}],"mark":{"type":"point","shape":"M0,0L0,3.9M-0.4,1.7L0,0L0.4,1.7","size":400,"filled":false,"color":"#333","strokeWidth":1,"opacity":1}}
]}
]},
{"width":189,"height":151,"title":{"text":"C57BL/10","dx":5,"offset":-13},
"layer":[
{"encoding":{"x":{"field":"day","type":"quantitative","scale":{"domain":[0,100],"nice":false,"zero":false},"axis":{"values":[0,20,40,60,80,100],"title":null,"labelOverlap":false}},
"y":{"field":"titre","type":"quantitative","scale":{"type":"log","domain":[100,10000000],"nice":false},"axis":{"values":[100,1000,10000,100000,1000000,10000000],"labelExpr":"datum.value < 150 ? '<10²' : datum.value < 1500 ? '10³' : datum.value < 15000 ? '10⁴' : datum.value < 150000 ? '10⁵' : datum.value < 1500000 ? '10⁶' : '10⁷'","title":null,"labelOverlap":false}}},
"layer":[
{"data":{"name":"C57_mice"},"mark":{"type":"line","color":"black","strokeWidth":1},"encoding":{"detail":{"field":"mouse"},"order":{"field":"day","type":"quantitative"}}},
{"data":{"name":"C57_ctrl"},"mark":{"type":"line","color":"#555","strokeWidth":1},"encoding":{"detail":{"field":"mouse"},"order":{"field":"day","type":"quantitative"}}},
{"data":{"name":"C57_mice"},"mark":{"type":"point","filled":true,"color":"black","opacity":1,"size":50},"encoding":{"shape":{"field":"mouse","legend":null,"scale":{"domain":["M1","M2","M3","M4","M5","C1","C2","C3"],"range":["circle","square","triangle-up","triangle-down","diamond","triangle-up","triangle-down","circle"]}}}},
{"data":{"name":"C57_ctrl"},"mark":{"type":"point","filled":true,"fill":"white","stroke":"#999","strokeWidth":1,"opacity":1,"size":60},"encoding":{"shape":{"field":"mouse","legend":null,"scale":{"domain":["M1","M2","M3","M4","M5","C1","C2","C3"],"range":["circle","square","triangle-up","triangle-down","diamond","triangle-up","triangle-down","circle"]}}}},
{"data":{"name":"panels"},"transform":[{"filter":"datum.strain == 'C57BL/10'"}],"mark":{"type":"point","shape":"M0,0L0,3.9M-0.4,1.7L0,0L0.4,1.7","size":400,"filled":false,"color":"#333","strokeWidth":1,"opacity":1}}
]}
]},
{"width":188,"height":151,"title":{"text":"Quackenbush","dx":3,"offset":-13},
"layer":[
{"encoding":{"x":{"field":"day","type":"quantitative","scale":{"domain":[0,100],"nice":false,"zero":false},"axis":{"values":[0,20,40,60,80,100],"title":null,"labelOverlap":false}},
"y":{"field":"titre","type":"quantitative","scale":{"type":"log","domain":[100,10000000],"nice":false},"axis":{"values":[100,1000,10000,100000,1000000,10000000],"labelExpr":"datum.value < 150 ? '<10²' : datum.value < 1500 ? '10³' : datum.value < 15000 ? '10⁴' : datum.value < 150000 ? '10⁵' : datum.value < 1500000 ? '10⁶' : '10⁷'","title":null,"labelOverlap":false}}},
"layer":[
{"data":{"name":"QB_mice"},"mark":{"type":"line","color":"black","strokeWidth":1},"encoding":{"detail":{"field":"mouse"},"order":{"field":"day","type":"quantitative"}}},
{"data":{"name":"QB_ctrl"},"mark":{"type":"line","color":"#555","strokeWidth":1},"encoding":{"detail":{"field":"mouse"},"order":{"field":"day","type":"quantitative"}}},
{"data":{"name":"QB_mice"},"mark":{"type":"point","filled":true,"color":"black","opacity":1,"size":50},"encoding":{"shape":{"field":"mouse","legend":null,"scale":{"domain":["M1","M2","M3","M4","M5","C1","C2","C3"],"range":["circle","square","triangle-up","triangle-down","diamond","triangle-up","triangle-down","circle"]}}}},
{"data":{"name":"QB_ctrl"},"mark":{"type":"point","filled":true,"fill":"white","stroke":"#999","strokeWidth":1,"opacity":1,"size":60},"encoding":{"shape":{"field":"mouse","legend":null,"scale":{"domain":["M1","M2","M3","M4","M5","C1","C2","C3"],"range":["circle","square","triangle-up","triangle-down","diamond","triangle-up","triangle-down","circle"]}}}},
{"data":{"name":"panels"},"transform":[{"filter":"datum.strain == 'Quackenbush'"}],"mark":{"type":"point","shape":"M0,0L0,3.9M-0.4,1.7L0,0L0.4,1.7","size":400,"filled":false,"color":"#333","strokeWidth":1,"opacity":1}}
]}
]}
]
}
